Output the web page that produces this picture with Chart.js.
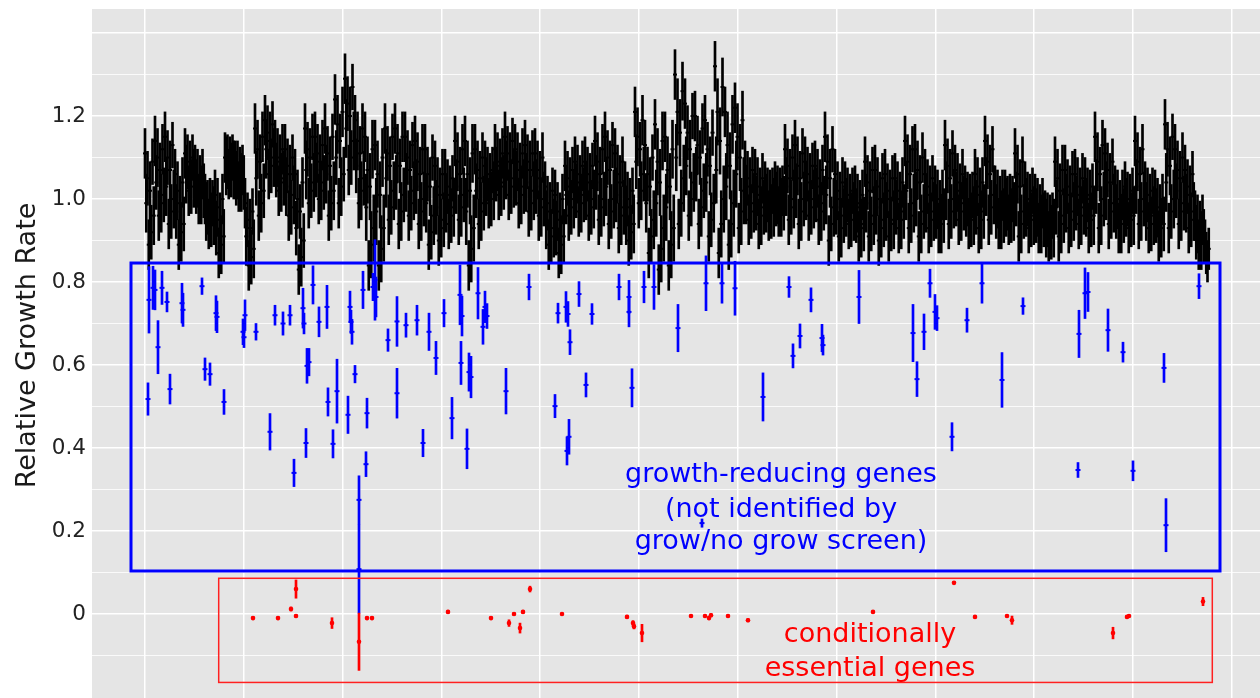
<!DOCTYPE html>
<html><head><meta charset="utf-8">
<script src="https://cdn.jsdelivr.net/npm/chart.js@4.4.1/dist/chart.umd.min.js"></script>
<style>html,body{margin:0;padding:0;background:#fff;overflow:hidden}#wrap{width:1260px;height:698px}</style>
</head><body><div id="wrap"><canvas id="c" width="1260" height="698"></canvas></div>
<script>
// ---------- DATA ----------
const yTickValues = [-0.1,0,0.1,0.2,0.3,0.4,0.5,0.6,0.7,0.8,0.9,1.0,1.1,1.2,1.3,1.4];
const yLabelValues = [0,0.2,0.4,0.6,0.8,1.0,1.2];
const xGridValues = [0,98.8,197.6,296.4,395.2,494,592.8,691.6,790.4,889.2,988,1086.8];

// black genes (ordered along genome, evenly spaced rank)
const blackStep = 1.25;
const blackY = [
1.11,0.99,1.05,0.89,1.02,0.92,1.09,0.96, 1.14,1.04,1.10,0.96,1.07,0.99,1.12,1.01, 1.15,1.03,1.10,0.94,1.07,0.97,1.13,1.00,
1.06,0.97,1.02,0.89,0.99,0.92,1.04,0.94, 1.11,1.06,1.09,1.02,1.07,1.03,1.10,1.05, 1.07,1.03,1.05,1.00,1.04,1.01,1.06,1.02,
1.00,0.97,0.98,0.94,0.98,0.95,0.99,0.96, 1.01,0.93,0.98,0.87,0.95,0.89,1.00,0.91, 1.10,1.08,1.09,1.06,1.08,1.07,1.10,1.07,
1.08,1.05,1.07,1.03,1.06,1.04,1.07,1.04, 0.99,0.91,0.95,0.84,0.93,0.86,0.97,0.88, 1.17,1.05,1.12,0.96,1.09,0.99,1.15,1.02,
1.19,1.12,1.16,1.06,1.14,1.08,1.18,1.10, 1.13,1.07,1.10,1.02,1.09,1.04,1.12,1.05, 1.12,1.03,1.08,0.96,1.06,0.98,1.10,1.01,
1.06,0.93,1.00,0.83,0.97,0.86,1.04,0.90, 1.17,1.07,1.12,0.99,1.10,1.02,1.15,1.04, 1.15,1.07,1.11,1.00,1.09,1.02,1.13,1.04,
1.17,1.06,1.11,0.96,1.08,0.99,1.15,1.02, 1.24,1.10,1.18,0.99,1.14,1.03,1.21,1.06, 1.29,1.17,1.23,1.07,1.20,1.10,1.27,1.14,
1.19,1.08,1.14,0.99,1.11,1.02,1.17,1.05, 1.15,0.98,1.07,0.84,1.03,0.89,1.12,0.93, 1.13,0.97,1.06,0.84,1.01,0.88,1.10,0.93,
1.17,1.05,1.11,0.95,1.08,0.98,1.15,1.02, 1.17,1.04,1.11,0.94,1.08,0.97,1.15,1.01, 1.15,1.04,1.10,0.96,1.07,0.99,1.13,1.02,
1.14,1.03,1.09,0.94,1.06,0.97,1.12,1.00, 1.12,0.99,1.06,0.89,1.03,0.92,1.10,0.96, 1.08,0.98,1.03,0.90,1.01,0.93,1.06,0.95,
1.06,0.99,1.03,0.94,1.01,0.96,1.05,0.98, 1.14,1.03,1.09,0.95,1.06,0.98,1.12,1.01, 1.14,0.97,1.06,0.84,1.02,0.88,1.11,0.93,
1.12,1.02,1.07,0.94,1.05,0.97,1.10,0.99, 1.08,1.03,1.06,0.99,1.04,1.00,1.07,1.02, 1.12,1.06,1.09,1.01,1.08,1.03,1.11,1.04,
1.15,1.07,1.11,1.01,1.09,1.03,1.14,1.05, 1.12,1.05,1.09,0.99,1.07,1.01,1.11,1.03, 1.13,1.04,1.09,0.97,1.07,0.99,1.11,1.02,
1.11,1.03,1.07,0.96,1.05,0.98,1.10,1.00, 1.03,0.95,0.99,0.89,0.97,0.91,1.02,0.93, 1.01,0.93,0.97,0.87,0.95,0.89,1.00,0.91,
1.08,1.01,1.05,0.96,1.03,0.98,1.07,1.00, 1.09,1.02,1.06,0.97,1.04,0.99,1.08,1.01, 1.09,1.02,1.06,0.96,1.04,0.98,1.08,1.00,
1.14,1.04,1.09,0.95,1.06,0.98,1.12,1.00, 1.15,1.03,1.10,0.94,1.07,0.97,1.13,1.00, 1.11,1.01,1.06,0.93,1.04,0.96,1.09,0.98,
1.03,0.96,1.00,0.90,0.98,0.92,1.02,0.94, 1.21,1.09,1.15,0.99,1.12,1.02,1.19,1.06, 1.13,0.99,1.06,0.87,1.03,0.91,1.10,0.95,
1.18,0.99,1.09,0.83,1.04,0.88,1.14,0.93, 1.15,0.98,1.07,0.84,1.03,0.89,1.12,0.93, 1.30,1.10,1.21,0.94,1.16,0.99,1.26,1.05,
1.23,1.08,1.16,0.96,1.12,1.00,1.20,1.04, 1.20,1.06,1.13,0.94,1.10,0.98,1.17,1.02, 1.19,1.04,1.12,0.91,1.08,0.95,1.16,0.99,
1.32,1.07,1.21,0.87,1.14,0.94,1.27,1.00, 1.21,1.03,1.13,0.89,1.08,0.94,1.18,0.99, 1.22,1.06,1.15,0.93,1.10,0.97,1.19,1.02,
1.08,1.01,1.05,0.95,1.03,0.97,1.07,0.99, 1.06,0.99,1.03,0.94,1.01,0.96,1.05,0.98, 1.03,0.99,1.01,0.96,1.00,0.97,1.02,0.98,
1.03,1.00,1.01,0.97,1.01,0.98,1.02,0.99, 1.12,1.03,1.08,0.95,1.05,0.98,1.10,1.00, 1.13,1.02,1.08,0.94,1.05,0.97,1.11,1.00,
1.09,1.02,1.06,0.96,1.04,0.98,1.08,1.00, 1.08,1.01,1.05,0.95,1.03,0.97,1.07,0.99, 1.15,1.01,1.09,0.90,1.05,0.94,1.12,0.98,
1.06,0.98,1.02,0.91,1.00,0.93,1.04,0.96, 1.03,0.98,1.01,0.94,0.99,0.95,1.02,0.97, 1.02,0.96,0.99,0.91,0.98,0.93,1.01,0.94,
1.09,0.99,1.04,0.91,1.02,0.94,1.07,0.96, 1.07,0.98,1.03,0.90,1.00,0.93,1.05,0.95, 1.06,0.97,1.02,0.91,1.00,0.94,1.05,0.95,
1.05,0.98,1.02,0.93,1.00,0.95,1.04,0.97, 1.14,1.02,1.09,0.93,1.06,0.96,1.12,0.99, 1.12,1.00,1.07,0.91,1.04,0.94,1.10,0.97,
1.06,0.99,1.03,0.93,1.01,0.95,1.05,0.97, 1.02,0.97,1.00,0.93,0.98,0.94,1.01,0.96, 1.13,1.02,1.08,0.94,1.05,0.97,1.11,1.00,
1.07,1.00,1.04,0.95,1.02,0.97,1.06,0.99, 1.02,0.98,1.00,0.94,0.99,0.95,1.01,0.96, 1.06,0.98,1.03,0.93,1.01,0.95,1.04,0.97,
1.14,1.03,1.09,0.95,1.06,0.98,1.12,1.01, 1.02,0.97,1.00,0.94,0.99,0.95,1.01,0.96, 1.01,0.98,0.99,0.95,0.99,0.96,1.00,0.97,
1.11,1.00,1.06,0.91,1.03,0.94,1.09,0.97, 1.03,0.98,1.00,0.93,0.99,0.95,1.02,0.96, 1.00,0.96,0.98,0.93,0.97,0.94,0.99,0.95,
0.96,0.93,0.95,0.91,0.94,0.92,0.96,0.93, 1.09,0.98,1.05,0.91,1.02,0.94,1.07,0.96, 1.07,0.99,1.03,0.93,1.01,0.95,1.06,0.97,
1.06,0.99,1.03,0.94,1.01,0.96,1.05,0.98, 1.04,0.98,1.01,0.93,1.00,0.95,1.03,0.96, 1.15,1.03,1.09,0.93,1.06,0.96,1.13,1.00,
1.11,1.02,1.07,0.94,1.04,0.97,1.09,0.99, 1.02,0.97,1.00,0.93,0.98,0.94,1.01,0.96, 1.03,0.98,1.00,0.93,0.99,0.95,1.02,0.96,
1.14,1.03,1.09,0.94,1.06,0.97,1.12,1.00, 1.03,0.97,1.01,0.93,0.99,0.94,1.02,0.96, 1.01,0.96,0.98,0.91,0.97,0.93,1.00,0.94,
1.18,1.04,1.12,0.93,1.08,0.97,1.15,1.00, 1.12,1.02,1.07,0.94,1.05,0.97,1.10,0.99, 1.07,0.99,1.03,0.93,1.01,0.95,1.06,0.97,
0.96,0.92,0.94,0.89,0.93,0.90,0.95,0.91, 0.90,0.87,0.85,0.88
];
const blackErr = [
0.06,0.07,0.065,0.06,0.07,0.065,0.055,0.07, 0.06,0.065,0.07,0.06,0.065,0.07,0.06,0.065, 0.06,0.07,0.065,0.06,0.07,0.065,0.055,0.07,
0.06,0.065,0.07,0.06,0.065,0.07,0.06,0.065, 0.06,0.07,0.065,0.06,0.07,0.065,0.055,0.07, 0.06,0.065,0.07,0.06,0.065,0.07,0.06,0.065,
0.06,0.07,0.065,0.06,0.07,0.065,0.055,0.07, 0.06,0.065,0.07,0.06,0.065,0.07,0.06,0.065, 0.06,0.07,0.065,0.06,0.07,0.065,0.055,0.07,
0.06,0.065,0.07,0.06,0.065,0.07,0.06,0.065, 0.06,0.07,0.065,0.06,0.07,0.065,0.055,0.07, 0.06,0.065,0.07,0.06,0.065,0.07,0.06,0.065,
0.06,0.07,0.065,0.06,0.07,0.065,0.055,0.07, 0.06,0.065,0.07,0.06,0.065,0.07,0.06,0.065, 0.06,0.07,0.065,0.06,0.07,0.065,0.055,0.07,
0.06,0.065,0.07,0.06,0.065,0.07,0.06,0.065, 0.06,0.07,0.065,0.06,0.07,0.065,0.055,0.07, 0.06,0.065,0.07,0.06,0.065,0.07,0.06,0.065,
0.06,0.07,0.065,0.06,0.07,0.065,0.055,0.07, 0.06,0.065,0.07,0.06,0.065,0.07,0.06,0.065, 0.06,0.07,0.065,0.06,0.07,0.065,0.055,0.07,
0.06,0.065,0.07,0.06,0.065,0.07,0.06,0.065, 0.06,0.08,0.08,0.06,0.08,0.08,0.07,0.08, 0.06,0.08,0.08,0.06,0.08,0.08,0.07,0.08,
0.06,0.07,0.065,0.06,0.07,0.065,0.055,0.07, 0.06,0.065,0.07,0.06,0.065,0.07,0.06,0.065, 0.06,0.07,0.065,0.06,0.07,0.065,0.055,0.07,
0.06,0.065,0.07,0.06,0.065,0.07,0.06,0.065, 0.06,0.07,0.065,0.06,0.07,0.065,0.055,0.07, 0.06,0.065,0.07,0.06,0.065,0.07,0.06,0.065,
0.06,0.07,0.065,0.06,0.07,0.065,0.055,0.07, 0.06,0.065,0.07,0.06,0.065,0.07,0.06,0.065, 0.06,0.08,0.08,0.06,0.08,0.08,0.07,0.08,
0.06,0.065,0.07,0.06,0.065,0.07,0.06,0.065, 0.06,0.07,0.065,0.06,0.07,0.065,0.055,0.07, 0.06,0.065,0.07,0.06,0.065,0.07,0.06,0.065,
0.06,0.07,0.065,0.06,0.07,0.065,0.055,0.07, 0.06,0.065,0.07,0.06,0.065,0.07,0.06,0.065, 0.06,0.07,0.065,0.06,0.07,0.065,0.055,0.07,
0.06,0.065,0.07,0.06,0.065,0.07,0.06,0.065, 0.06,0.07,0.065,0.06,0.07,0.065,0.055,0.07, 0.06,0.065,0.07,0.06,0.065,0.07,0.06,0.065,
0.06,0.07,0.065,0.06,0.07,0.065,0.055,0.07, 0.06,0.065,0.07,0.06,0.065,0.07,0.06,0.065, 0.06,0.07,0.065,0.06,0.07,0.065,0.055,0.07,
0.06,0.065,0.07,0.06,0.065,0.07,0.06,0.065, 0.06,0.07,0.065,0.06,0.07,0.065,0.055,0.07, 0.06,0.065,0.07,0.06,0.065,0.07,0.06,0.065,
0.06,0.07,0.065,0.06,0.07,0.065,0.055,0.07, 0.06,0.065,0.07,0.06,0.065,0.07,0.06,0.065, 0.06,0.07,0.065,0.06,0.07,0.065,0.055,0.07,
0.06,0.08,0.08,0.06,0.08,0.08,0.07,0.08, 0.06,0.08,0.08,0.06,0.08,0.08,0.07,0.08, 0.06,0.08,0.08,0.06,0.08,0.08,0.07,0.08,
0.06,0.07,0.065,0.06,0.07,0.065,0.055,0.07, 0.06,0.065,0.07,0.06,0.065,0.07,0.06,0.065, 0.06,0.07,0.065,0.06,0.07,0.065,0.055,0.07,
0.06,0.08,0.08,0.06,0.08,0.08,0.07,0.08, 0.06,0.08,0.08,0.06,0.08,0.08,0.07,0.08, 0.06,0.08,0.08,0.06,0.08,0.08,0.07,0.08,
0.06,0.07,0.065,0.06,0.07,0.065,0.055,0.07, 0.06,0.065,0.07,0.06,0.065,0.07,0.06,0.065, 0.06,0.07,0.065,0.06,0.07,0.065,0.055,0.07,
0.06,0.065,0.07,0.06,0.065,0.07,0.06,0.065, 0.06,0.07,0.065,0.06,0.07,0.065,0.055,0.07, 0.06,0.065,0.07,0.06,0.065,0.07,0.06,0.065,
0.06,0.07,0.065,0.06,0.07,0.065,0.055,0.07, 0.06,0.065,0.07,0.06,0.065,0.07,0.06,0.065, 0.06,0.07,0.065,0.06,0.07,0.065,0.055,0.07,
0.06,0.065,0.07,0.06,0.065,0.07,0.06,0.065, 0.06,0.07,0.065,0.06,0.07,0.065,0.055,0.07, 0.06,0.065,0.07,0.06,0.065,0.07,0.06,0.065,
0.06,0.07,0.065,0.06,0.07,0.065,0.055,0.07, 0.06,0.065,0.07,0.06,0.065,0.07,0.06,0.065, 0.06,0.07,0.065,0.06,0.07,0.065,0.055,0.07,
0.06,0.065,0.07,0.06,0.065,0.07,0.06,0.065, 0.06,0.07,0.065,0.06,0.07,0.065,0.055,0.07, 0.06,0.065,0.07,0.06,0.065,0.07,0.06,0.065,
0.06,0.07,0.065,0.06,0.07,0.065,0.055,0.07, 0.06,0.065,0.07,0.06,0.065,0.07,0.06,0.065, 0.06,0.07,0.065,0.06,0.07,0.065,0.055,0.07,
0.06,0.065,0.07,0.06,0.065,0.07,0.06,0.065, 0.06,0.07,0.065,0.06,0.07,0.065,0.055,0.07, 0.06,0.065,0.07,0.06,0.065,0.07,0.06,0.065,
0.06,0.07,0.065,0.06,0.07,0.065,0.055,0.07, 0.06,0.065,0.07,0.06,0.065,0.07,0.06,0.065, 0.06,0.07,0.065,0.06,0.07,0.065,0.055,0.07,
0.06,0.065,0.07,0.06,0.065,0.07,0.06,0.065, 0.06,0.07,0.065,0.06,0.07,0.065,0.055,0.07, 0.06,0.065,0.07,0.06,0.065,0.07,0.06,0.065,
0.06,0.07,0.065,0.06,0.07,0.065,0.055,0.07, 0.06,0.065,0.07,0.06,0.065,0.07,0.06,0.065, 0.06,0.07,0.065,0.06,0.07,0.065,0.055,0.07,
0.06,0.065,0.07,0.06,0.065,0.07,0.06,0.065, 0.06,0.07,0.065,0.06,0.07,0.065,0.055,0.07, 0.06,0.065,0.07,0.06,0.065,0.07,0.06,0.065,
0.06,0.07,0.065,0.06,0.07,0.065,0.055,0.07, 0.06,0.065,0.07,0.06,0.065,0.07,0.06,0.065, 0.06,0.07,0.065,0.06,0.07,0.065,0.055,0.07,
0.06,0.065,0.07,0.06,0.065,0.07,0.06,0.065, 0.06,0.07,0.065,0.06,0.07,0.065,0.055,0.07, 0.06,0.065,0.07,0.06,0.065,0.07,0.06,0.065,
0.06,0.07,0.065,0.06,0.07,0.065,0.055,0.07, 0.06,0.065,0.07,0.06,0.065,0.07,0.06,0.065, 0.06,0.07,0.065,0.06,0.07,0.065,0.055,0.07,
0.06,0.065,0.07,0.06,0.065,0.07,0.06,0.065, 0.05,0.05,0.05,0.05
];

// growth-reducing genes (blue)
const blueX = [3,4,8,10,13,17,22,25,37,38,57,60,65,71,72,79,98,99,100,111,
125,130,138,145,149,158,159,161,162,164,168,174,182,183,188,192,203,205,206,207,
210,214,214,218,221,222,228,230,231,243,252,252,261,272,278,284,291,299,307,315,
317,316,322,324,326,333,338,340,342,361,384,410,413,421,423,425,422,424,434,441,
447,474,484,484,487,499,509,533,557,561,577,590,618,644,648,655,666,677,678,714,
768,772,779,785,790,792,807,822,837,857,878,934,940,943,933,963,978,988,1019,1021,1054];
const blueY = [.518,.757,.786,.781,.643,.786,.752,.542,.749,.733,.79,.59,.578,.725,.716,.511,.68,.667,.72,.68,
.439,.72,.70,.72,.34,.737,.70,.412,.598,.607,.793,.704,.74,.511,.41,.537,.48,.74,.704,.68,
.578,.275,.108,.781,.361,.484,.788,.805,.764,.66,.705,.532,.696,.708,.412,.68,.617,.725,.472,.769,
.718,.605,.398,.583,.571,.773,.692,.74,.718,.537,.788,.501,.725,.74,.723,.655,.393,.427,.771,.552,
.723,.788,.764,.728,.545,.788,.788,.689,.219,.797,.797,.785,.523,.788,.622,.67,.757,.665,.648,.764,
.677,.566,.68,.797,.728,.713,.427,.708,.797,.564,.742,.675,.773,.776,.347,.684,.631,.345,.593,.214,.79];
const blueErr = [.039,.08,.052,.048,.064,.04,.024,.036,.048,.04,.02,.027,.027,.042,.038,.03,.031,.025,.037,.02,
.044,.024,.028,.024,.033,.048,.025,.035,.042,.033,.046,.036,.052,.034,.034,.077,.045,.038,.028,.03,
.021,.058,.108,.045,.03,.036,.033,.097,.048,.027,.06,.06,.029,.036,.033,.045,.04,.033,.05,.072,
.048,.052,.048,.046,.05,.062,.042,.038,.03,.055,.031,.028,.024,.037,.03,.03,.034,.042,.03,.029,
.025,.031,.04,.036,.046,.038,.054,.057,.01,.066,.048,.065,.058,.025,.029,.029,.029,.033,.024,.064,
.069,.042,.043,.034,.042,.03,.034,.029,.048,.066,.02,.057,.061,.047,.018,.051,.024,.024,.035,.064,.03];

// conditionally essential genes (red)
const redX = [108,133,146,151,151,187,214,222,227,303,346,364,369,375,378,385,417,482,488,489,
497,546,560,564,566,583,603,728,809,830,862,867,968,982,984,1058];
const redY = [-0.01,-0.01,0.012,0.06,-0.005,-0.022,-0.067,-0.01,-0.01,0.005,-0.01,-0.022,0,-0.034,0.005,0.06,0,-0.007,-0.022,-0.03,
-0.046,-0.005,-0.005,-0.01,-0.003,-0.005,-0.015,0.005,0.075,-0.007,-0.005,-0.015,-0.046,-0.007,-0.005,0.03];
const redErr = [.004,.004,.005,.022,.004,.013,.069,.004,.004,.004,.004,.008,.004,.012,.004,.007,.003,.004,.006,.006,
.021,.003,.003,.004,.004,.003,.004,.003,.003,.003,.003,.01,.014,.003,.003,.01];

const blueLabel = ['growth-reducing genes','(not identified by','grow/no grow screen)'];
const redLabel = ['conditionally','essential genes'];
const yTitle = 'Relative Growth Rate';

// ---------- annotation geometry (data units) ----------
const blueBox = {x0:-14, x1:1075, y0:0.1036, y1:0.8458};
const redBox = {x0:73.7, x1:1067.3, y0:-0.165, y1:0.086};
const blueTextPos = {x:636, y:[0.3169,0.2349,0.1566]};
const redTextPos = {x:725, y:[-0.0675,-0.1487]};

// ---------- build ----------
const nBlack = Math.min(blackY.length, blackErr.length);
const blackPts = [], blackBars = [];
for (let i = 0; i < nBlack; i++) {
  blackPts.push({x:i*blackStep, y:blackY[i]});
  blackBars.push({x:i*blackStep, y:[blackY[i]-blackErr[i], blackY[i]+blackErr[i]]});
}
const bluePts = blueY.map((v,i)=>({x:blueX[i], y:v}));
const blueBars = blueY.map((v,i)=>({x:blueX[i], y:[v-blueErr[i], v+blueErr[i]]}));
const redPts = redY.map((v,i)=>({x:redX[i], y:v}));
const redBars = redY.map((v,i)=>({x:redX[i], y:[v-redErr[i], v+redErr[i]]}));

Chart.defaults.font.family = "'DejaVu Sans', Verdana, sans-serif";

const isMajor = v => Math.abs(v*5 - Math.round(v*5)) < 1e-6;

const bgPlugin = {
  id:'bg',
  beforeDraw(chart){
    const {ctx, chartArea:a} = chart;
    ctx.save(); ctx.fillStyle = '#E5E5E5';
    ctx.fillRect(a.left, a.top, a.right-a.left, a.bottom-a.top);
    ctx.restore();
  }
};
const annotPlugin = {
  id:'annot',
  afterDatasetsDraw(chart){
    const {ctx, scales:{x,y}} = chart;
    ctx.save();
    ctx.strokeStyle = '#0000FF'; ctx.lineWidth = 3;
    ctx.strokeRect(x.getPixelForValue(blueBox.x0), y.getPixelForValue(blueBox.y1),
      x.getPixelForValue(blueBox.x1)-x.getPixelForValue(blueBox.x0),
      y.getPixelForValue(blueBox.y0)-y.getPixelForValue(blueBox.y1));
    ctx.strokeStyle = '#FF2020'; ctx.lineWidth = 1.5;
    ctx.strokeRect(x.getPixelForValue(redBox.x0), y.getPixelForValue(redBox.y1),
      x.getPixelForValue(redBox.x1)-x.getPixelForValue(redBox.x0),
      y.getPixelForValue(redBox.y0)-y.getPixelForValue(redBox.y1));
    ctx.font = "27px 'DejaVu Sans', Verdana, sans-serif";
    ctx.textAlign = 'center'; ctx.textBaseline = 'alphabetic';
    ctx.fillStyle = '#0000FF';
    blueLabel.forEach((t,i)=>ctx.fillText(t, x.getPixelForValue(blueTextPos.x), y.getPixelForValue(blueTextPos.y[i])));
    ctx.fillStyle = '#FF0000';
    redLabel.forEach((t,i)=>ctx.fillText(t, x.getPixelForValue(redTextPos.x), y.getPixelForValue(redTextPos.y[i])));
    ctx.restore();
  },
  afterDraw(chart){
    const {ctx} = chart;
    ctx.save();
    ctx.translate(35, 345.5);
    ctx.rotate(-Math.PI/2);
    ctx.font = "27px 'DejaVu Sans', Verdana, sans-serif";
    ctx.fillStyle = '#1a1a1a';
    ctx.textAlign = 'center'; ctx.textBaseline = 'alphabetic';
    ctx.fillText(yTitle, 0, 0);
    ctx.restore();
  }
};

new Chart(document.getElementById('c'), {
  type:'scatter',
  data:{
    datasets:[
      {type:'bar', data:blackBars, backgroundColor:'#000', borderWidth:0, barThickness:2, grouped:false, order:6},
      {type:'scatter', data:blackPts, pointStyle:'line', pointRadius:2, pointBorderWidth:2, borderColor:'#000', pointBorderColor:'#000', order:5},
      {type:'bar', data:blueBars, backgroundColor:'#0000FF', borderWidth:0, barThickness:2, grouped:false, order:4},
      {type:'scatter', data:bluePts, pointStyle:'line', pointRadius:2.5, pointBorderWidth:2, borderColor:'#0000FF', pointBorderColor:'#0000FF', order:3},
      {type:'bar', data:redBars, backgroundColor:'#FF0000', borderWidth:0, barThickness:2, grouped:false, order:2},
      {type:'scatter', data:redPts, pointStyle:'circle', pointRadius:2.3, pointBorderWidth:0, backgroundColor:'#FF0000', pointBackgroundColor:'#FF0000', order:1}
    ]
  },
  options:{
    responsive:false, animation:false, devicePixelRatio:1, events:[],
    layout:{autoPadding:false, padding:{top:9,left:0,right:0,bottom:0}},
    plugins:{legend:{display:false}, tooltip:{enabled:false}},
    scales:{
      x:{type:'linear', min:-53, max:1115, offset:false,
        afterBuildTicks:s=>{ s.ticks = xGridValues.map(v=>({value:v})); },
        afterFit:s=>{ s.height = 0; s.paddingLeft = 0; s.paddingRight = 0; },
        ticks:{display:false},
        border:{display:false},
        grid:{color:'#FFFFFF', lineWidth:1.5, drawTicks:false, offset:false}
      },
      y:{type:'linear', min:-0.2025, max:1.458,
        afterBuildTicks:s=>{ s.ticks = yTickValues.map(v=>({value:v})); },
        afterFit:s=>{ s.width = 92; s.paddingTop = 0; s.paddingBottom = 0; },
        border:{display:false},
        grid:{color:'#FFFFFF', drawTicks:false, offset:false, lineWidth:c=> isMajor(c.tick.value)?1.6:0.8},
        ticks:{padding:6, color:'#222', font:{size:21.5},
          callback:v=>{
            if(!yLabelValues.some(l=>Math.abs(l-v)<1e-6)) return '';
            return Math.abs(v)<1e-9 ? '0' : v.toFixed(1);
          }}
      }
    }
  },
  plugins:[bgPlugin, annotPlugin]
});
</script>
</body></html>
